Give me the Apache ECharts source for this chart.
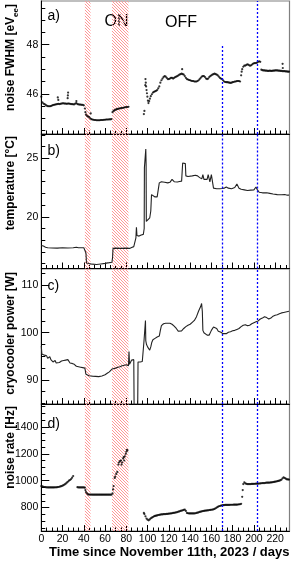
<!DOCTYPE html>
<html><head><meta charset="utf-8">
<script src="https://cdn.jsdelivr.net/npm/echarts@6/dist/echarts.min.js"></script>
<style>html,body{margin:0;padding:0;background:#fff}#c{width:299px;height:562px}</style>
</head><body><div id="c"></div>
<script>
// ---------- data ----------
const xMajor = [0,20,40,60,80,100,120,140,160,180,200,220];
const xMinor = [5,10,15,25,30,35,45,50,55,65,70,75,85,90,95,105,110,115,125,130,135,145,150,155,165,170,175,185,190,195,205,210,215,225,230];
const onPeriods = [[41,46.3],[66.5,82]];
const markerDays = [170,203];

const fwhmData = [
[0,45.88],[1,45.65],[2,45.6],[3,45.58],[4,45.55],[5,45.52],[6,45.5],[7,45.49],[8,45.49],[9,45.5],[10,45.52],[11,45.54],[12,45.55],[13,45.56],[14,45.57],[15,45.58],[16,45.59],[17,45.58],[18,45.59],[19,45.6],[20,45.61],[21,45.61],[22,45.6],[23,45.6],[24,45.59],[25,45.6],[26,45.6],[27,45.59],[28,45.58],[29,45.58],[30,45.57],[31,45.57],[32,45.6],[33,45.62],[34,45.58],[35,45.57],[36,45.56],[37,45.56],[38,45.55],[39,45.55],[40,45.53],
[15.5,45.85],[16,45.75],[24.8,45.82],[25,45.93],[25.2,46.05],[33,45.7],
[41,45.4],[41.5,45.25],[42,45.15],[43,45.1],[44,45.07],[45,45.05],[46,45.0],[46.5,45.2],[47,44.97],[48,44.95],[49,44.94],[50,44.93],[51,44.93],[52,44.92],[53,44.92],[54,44.92],[55,44.92],[56,44.93],[57,44.93],[58,44.93],[59,44.94],[60,44.94],[61,44.95],[62,44.95],[63,44.95],[64,44.96],[65,44.96],[66,44.97],
[67,45.25],[68,45.3],[69,45.33],[70,45.35],[71,45.37],[72,45.38],[73,45.4],[74,45.4],[75,45.42],[76,45.42],[77,45.43],[78,45.44],[79,45.45],[80,45.46],[81,45.46],[82,45.47],
[96.5,45.17],[97,45.3],[97.8,46.35],[98,46.6],[98.3,46.45],[98.6,46.3],[99,46.15],[99.4,46.02],[99.8,45.88],[100.3,45.72],[100.8,45.62],[101.5,45.7],[102.2,45.8],[103,45.9],[104,45.98],[105,46.05],[106,46.08],[107,46.1],[108,46.12],[109,46.15],[110,46.22],[111,46.3],[112,46.45],[113,46.55],[114,46.62],[115,46.68],[116,46.72],[117,46.7],[118,46.65],[119,46.6],[120,46.6],[121,46.62],[122,46.65],[123,46.65],[124,46.62],[125,46.65],[126,46.68],[127,46.7],[128,46.72],[129,46.75],[130,46.78],[131,46.8],[132,46.82],[132.5,47.0],[133,46.8],[134,46.78],[135,46.72],[136,46.65],[137,46.6],[138,46.58],[139,46.56],[140,46.55],[141,46.53],[142,46.52],[143,46.52],[144,46.5],[145,46.5],[146,46.5],[147,46.52],[148,46.55],[149,46.6],[150,46.65],[151,46.7],[152,46.72],[153,46.72],[154,46.68],[155,46.62],[156,46.6],[157,46.62],[158,46.68],[159,46.72],[160,46.75],[161,46.78],[162,46.8],[163,46.82],[164,46.8],[165,46.78],[166,46.75],[167,46.7],[168,46.65],[169,46.62],[170,46.6],[171,46.55],[172,46.5],[173,46.48],[174,46.47],[175,46.47],[176,46.46],[177,46.45],[178,46.44],[179,46.45],[180,46.47],[181,46.48],[182,46.5],[183,46.5],[184,46.52],[185,46.52],[186,46.52],[187,46.5],[188,46.75],[188.5,46.9],[189,47.0],[190,47.1],[191,47.15],[192,47.15],[193,47.18],[194,47.2],[195,47.18],[196,47.15],[197,47.15],[198,47.18],[199,47.22],[200,47.24],[201,47.25],[202,47.25],[203,47.27],[204,47.3],[205,47.32],[206,47.3],
[207,46.98],[208,46.96],[209,46.95],[210,46.95],[211,46.94],[212,46.94],[213,46.93],[214,46.93],[215,46.94],[216,46.93],[217,46.93],[218,46.94],[219,46.94],[220,46.95],[221,46.95],[222,46.95],[223,46.94],[224,46.94],[225,46.93],[226,46.93],[227,46.92],[227,47.22],[227.2,47.05],[228,46.92],[229,46.92],[230,46.91],[231,46.91],[232,46.9],[233,46.9]
];

const tempData = [
[0,17.55],[2,17.5],[4,17.4],[6,17.35],[10,17.33],[15,17.32],[20,17.35],[25,17.33],[30,17.35],[33,17.4],[35,17.35],[40,17.35],[41.5,17.33],[42,16.9],[42.5,16.05],[45,16.0],[48,15.95],[52,15.92],[56,15.97],[60,16.02],[64,16.08],[66.5,16.12],[67,16.5],[67.5,17.3],[70,17.32],[75,17.3],[80,17.32],[83,17.3],[85,17.38],[87,17.45],[88.5,17.55],[89,18.2],[89.5,19.1],[90,18.4],[92,18.35],[94,18.45],[96,18.5],[96.8,19.0],[97,24.2],[98,24.3],[98.3,25.8],[98.6,24.5],[98.8,19.6],[100,19.7],[102,19.9],[103,20.5],[103.7,21.9],[105,21.85],[107,21.7],[109,21.7],[110.5,21.75],[111,22.9],[113,23.0],[116,22.95],[119,22.9],[121,22.95],[123,23.2],[124,23.25],[125,23.0],[128,22.98],[130,23.02],[132,23.05],[133,24.6],[134,24.65],[135.5,24.55],[136,23.5],[138,23.45],[142,23.5],[145,23.55],[147,23.5],[149,23.35],[151,23.25],[152,23.6],[153,23.2],[156,23.2],[157,23.6],[158,23.65],[158.6,22.98],[160,23.6],[161,23.5],[162,22.45],[165,22.4],[168,22.4],[170,22.42],[172,22.45],[174,22.55],[176,22.45],[179,22.4],[182,22.5],[184,22.8],[185,22.9],[186,22.45],[188,22.35],[191,22.3],[194,22.25],[197,22.28],[200,22.3],[202,22.55],[203,22.35],[205,22.1],[208,22.05],[212,22.05],[215,22.0],[218,21.95],[222,21.9],[226,21.88],[229,21.9],[230.5,22.05],[231.5,21.85],[233,21.85]
];

const powerData = [
[0,97.2],[0.5,95.5],[1,95.3],[3,95.25],[5,95.1],[6,94.6],[7,95.0],[8,94.9],[9,94.3],[10,94.5],[11,93.8],[12,94.2],[13,94.1],[14,93.6],[15,93.8],[17,93.7],[19,94.0],[21,94.1],[23,94.2],[25,94.3],[26,94.0],[27,93.6],[29,93.5],[31,93.3],[33,92.9],[35,92.8],[37,92.7],[39,92.6],[41,92.5],[41.5,92.3],[42,91.2],[43,91.0],[45,90.9],[48,90.8],[51,90.75],[54,90.7],[57,90.85],[60,91.1],[62,91.4],[64,91.7],[65.5,91.8],[66.5,92.3],[68,92.4],[70,92.5],[72,92.7],[74,92.8],[76,93.0],[78,93.1],[80,93.2],[81,93.3],[82,93.0],[82.5,96.0],[83,93.3],[84,93.5],[85,94.2],[86,94.3],[87,94.3],[87.3,84.5],[90.7,84.5],[91,93.8],[93,93.8],[95,93.9],[96.3,94.0],[96.6,98.2],[97.5,98.4],[98,102.6],[98.3,98.3],[99,97.5],[100,97.0],[101,96.6],[102,96.3],[103,97.0],[104,98.0],[105,98.5],[107,98.8],[109,99.1],[111,99.3],[112,100.5],[113,101.5],[115,101.9],[117,102.0],[119,102.0],[121,102.0],[123,101.8],[125,101.4],[127,100.9],[129,100.3],[130.5,99.9],[132,100.4],[134,100.9],[136,101.3],[138,101.6],[140,101.8],[142,102.2],[144,102.6],[146,103.4],[148,104.6],[150,105.6],[150.8,106.2],[151.5,104.5],[152,100.5],[153,100.0],[154.5,99.6],[156,99.5],[158,99.5],[159,99.8],[160,100.5],[162,101.2],[163,101.3],[165,100.9],[166.5,100.3],[168,99.9],[169,100.1],[170,99.7],[171,99.8],[172.5,99.5],[174,99.8],[176,100.1],[178,100.2],[180,100.4],[182,100.5],[184,100.7],[186,100.9],[188,101.3],[190,101.6],[192,101.7],[194,101.5],[196,101.6],[198,101.9],[200,102.1],[202,102.3],[204,102.5],[206,102.9],[208,103.1],[210,103.4],[212,103.2],[214,102.9],[216,103.1],[218,103.5],[220,103.7],[222,103.8],[224,104.0],[226,104.2],[228,104.3],[230,104.4],[233,104.55]
];

const rateData = [
[0,960],[1,958],[2,955],[3,953],[4,952],[5,951],[6,950],[7,950],[8,950],[9,950],[10,950],[11,950],[12,950],[13,951],[14,951],[15,952],[16,953],[17,955],[18,957],[19,960],[20,963],[21,967],[22,972],[23,978],[24,985],[25,992],[26,1000],[27,1005],[28,1012],[29,1022],[30,1035],
[34,952],[35,950],[36,950],[37,950],[38,950],[39,950],[40,950],[41,948],[41.5,930],[42,915],[43,905],[44,898],[45,897],[46,897],[47,897],[48,896],[49,896],[50,896],[51,896],[52,896],[53,896],[54,896],[55,896],[56,896],[57,896],[58,896],[59,896],[60,896],[61,896],[62,896],[63,896],[64,896],[65,896],[66,896],[67,905],
[67.5,935],[68,960],[69,1020],[69.5,1030],[70.5,1050],[71.5,1065],[72.5,1120],[73,1135],[74,1145],[75,1150],[75.5,1120],[76,1135],[77,1165],[77.5,1175],[78,1150],[78.5,1180],[79.5,1200],[80,1215],[80.5,1230],[81,1225],
[96.5,760],[97,752],[98,735],[99,718],[100,710],[101,705],[102,712],[103,720],[104,725],[105,730],[106,735],[107,738],[108,740],[109,742],[110,745],[111,746],[112,748],[113,749],[114,750],[115,751],[116,752],[117,752],[118,753],[119,754],[120,755],[121,756],[122,757],[123,758],[124,760],[125,761],[126,763],[127,765],[128,767],[129,770],[130,772],[131,775],[132,778],[133,780],[134,783],[135,785],[136,775],[137,760],[138,758],[139,757],[140,757],[141,757],[142,757],[143,757],[144,757],[145,758],[146,760],[147,762],[148,765],[149,768],[150,770],[151,772],[152,774],[153,775],[154,777],[155,778],[156,779],[157,780],[158,782],[159,783],[160,784],[161,785],[162,787],[163,790],[164,795],[165,800],[166,805],[167,810],[168,812],[169,815],[170,816],[171,818],[172,819],[173,820],[174,820],[175,820],[176,820],[177,820],[178,821],[179,821],[180,821],[181,822],[182,822],[183,822],[184,822],[185,823],[186,824],[187,825],[188,828],[189,880],[189.5,930],[190,975],[191,988],[192,980],[193,977],[194,975],[195,975],[196,975],[197,975],[198,976],[199,976],[200,977],[201,977],[202,978],[203,978],[204,978],[205,979],[206,980],[207,981],[208,982],[209,982],[210,982],[211,984],[212,985],[213,985],[214,985],[215,986],[216,987],[217,988],[218,990],[219,991],[220,993],[221,994],[222,996],[223,998],[224,1000],[225,1004],[226,1008],[227,1018],[228,1025],[229,1020],[230,1015],[231,1010],[232,1009],[233,1008]
];

const panels = [
  {data: fwhmData, kind:'scatter', min:44.36, max:49.78, major:[46,48], minor:[44.5,45,45.5,46.5,47,47.5,48.5,49,49.5]},
  {data: tempData, kind:'line', min:15.58, max:27.08, major:[20,25], minor:[16,17,18,19,21,22,23,24,26,27]},
  {data: powerData, kind:'line', min:84.9, max:113.5, major:[90,100,110], minor:[85,87.5,92.5,95,97.5,102.5,105,107.5,112.5]},
  {data: rateData, kind:'scatter', min:626, max:1570, major:[800,1000,1200,1400], minor:[650,700,750,850,900,950,1050,1100,1150,1250,1300,1350,1450,1500,1550]}
];
const xMin = 0, xMax = 233.5;

// ---------- layout ----------
const gridBoxes = [{top:1,height:133},{top:134,height:134.5},{top:269,height:135},{top:404,height:127}];
const FONT = '"Liberation Sans", Arial, sans-serif';

function hatchCanvas(){
  const n = 6, c = document.createElement('canvas');
  c.width = n; c.height = n;
  const ctx = c.getContext('2d');
  const img = ctx.createImageData(n, n);
  for (let y = 0; y < n; y++) for (let x = 0; x < n; x++) {
    const i = (y*n + x)*4;
    if (((x - y) % 3 + 3) % 3 === 0) { img.data[i]=255; img.data[i+1]=150; img.data[i+2]=150; img.data[i+3]=255; }
  }
  ctx.putImageData(img, 0, 0);
  return c;
}
const hatch = hatchCanvas();
const plainNum = v => String(Math.round(v * 100) / 100);

const grids = [], xAxes = [], yAxes = [], series = [];
panels.forEach((p, i) => {
  grids.push({left:41.3, width:248.2, top:gridBoxes[i].top, height:gridBoxes[i].height,
    show:true, borderColor:'#808080', borderWidth:1.2, backgroundColor:'transparent'});
  const isBottom = i === panels.length - 1;
  xAxes.push({type:'value', gridIndex:i, min:xMin, max:xMax, position:'bottom',
    axisLine:{show:true, onZero:false, lineStyle:{color:'#000', width:1}},
    axisTick:{show:true, inside:true, length:6, customValues:xMajor, lineStyle:{color:'#000'}},
    axisLabel:{show:isBottom, customValues:xMajor, margin:3, fontSize:10.5, color:'#000', fontFamily:FONT, formatter:plainNum},
    splitLine:{show:false}});
  xAxes.push({type:'value', gridIndex:i, min:xMin, max:xMax, position:'bottom',
    axisLine:{show:false},
    axisTick:{show:true, inside:true, length:3.5, customValues:xMinor, lineStyle:{color:'#000'}},
    axisLabel:{show:false}, splitLine:{show:false}});
  yAxes.push({type:'value', gridIndex:i, min:p.min, max:p.max, position:'left',
    axisLine:{show:true, onZero:false, lineStyle:{color:'#000', width:1}},
    axisTick:{show:true, inside:true, length:8, customValues:p.major, lineStyle:{color:'#000'}},
    axisLabel:{show:true, customValues:p.major, margin:3, fontSize:10.5, color:'#000', fontFamily:FONT, formatter:plainNum},
    splitLine:{show:false}});
  yAxes.push({type:'value', gridIndex:i, min:p.min, max:p.max, position:'left',
    axisLine:{show:false},
    axisTick:{show:true, inside:true, length:4, customValues:p.minor, lineStyle:{color:'#000'}},
    axisLabel:{show:false}, splitLine:{show:false}});

  const markLineData = (i === 0)
    ? [[{coord:[markerDays[0], 47.95]}, {coord:[markerDays[0], p.min]}], {xAxis:markerDays[1]}]
    : markerDays.map(d => ({xAxis:d}));

  const s = {
    type:p.kind, xAxisIndex:2*i, yAxisIndex:2*i, data:p.data, animation:false, silent:true,
    markArea:{silent:true, itemStyle:{color:{image:hatch, repeat:'repeat'}, opacity:1},
      data:onPeriods.map(r => [{xAxis:r[0]},{xAxis:r[1]}])},
    markLine:{silent:true, symbol:['none','none'], label:{show:false},
      lineStyle:{color:'#0000ff', type:[2,2], width:1.3}, data:markLineData}
  };
  if (p.kind === 'scatter') {
    s.symbolSize = 2.2; s.itemStyle = {color:'#000'};
  } else {
    s.showSymbol = false; s.lineStyle = {color:'#222', width:1.1};
  }
  series.push(s);
});

const yTitles = [
  {text:'noise FWHM [eV{sub|ee}]', top:4},
  {text:'temperature [°C]', top:136},
  {text:'cryocooler power [W]', top:272},
  {text:'noise rate [Hz]', top:406}
];
const panelTags = ['a)','b)','c)','d)'];
const tagY = [16,151,286,424];

const graphics = [];
yTitles.forEach(t => graphics.push({type:'text', x:11, y:t.top, rotation:Math.PI/2, silent:true,
  style:{text:t.text, font:'bold 12px ' + FONT, fill:'#000', align:'right', textAlign:'right',
    verticalAlign:'middle', textVerticalAlign:'middle', lineHeight:18,
    rich:{sub:{fontSize:8, fontWeight:'bold', fontFamily:FONT, verticalAlign:'bottom', lineHeight:8}}}}));
panelTags.forEach((t, i) => graphics.push({type:'text', x:47.5, y:tagY[i], silent:true,
  style:{text:t, font:'14px ' + FONT, fill:'#000', align:'left', textAlign:'left', verticalAlign:'middle', textVerticalAlign:'middle'}}));
graphics.push({type:'text', x:116.5, y:21.5, silent:true,
  style:{text:'ON', font:'16px ' + FONT, fill:'#000', align:'center', textAlign:'center', verticalAlign:'middle', textVerticalAlign:'middle'}});
graphics.push({type:'text', x:181, y:22.5, silent:true,
  style:{text:'OFF', font:'16px ' + FONT, fill:'#000', align:'center', textAlign:'center', verticalAlign:'middle', textVerticalAlign:'middle'}});
graphics.push({type:'text', x:289.5, y:552.5, silent:true,
  style:{text:'Time since November 11th, 2023 / days', font:'bold 13px ' + FONT, fill:'#000', align:'right', textAlign:'right', verticalAlign:'middle', textVerticalAlign:'middle'}});

const chart = echarts.init(document.getElementById('c'), null, {renderer:'canvas'});
chart.setOption({
  animation:false,
  backgroundColor:'#fff',
  textStyle:{fontFamily:FONT},
  grid:grids, xAxis:xAxes, yAxis:yAxes, series:series, graphic:graphics
});
</script></body></html>
